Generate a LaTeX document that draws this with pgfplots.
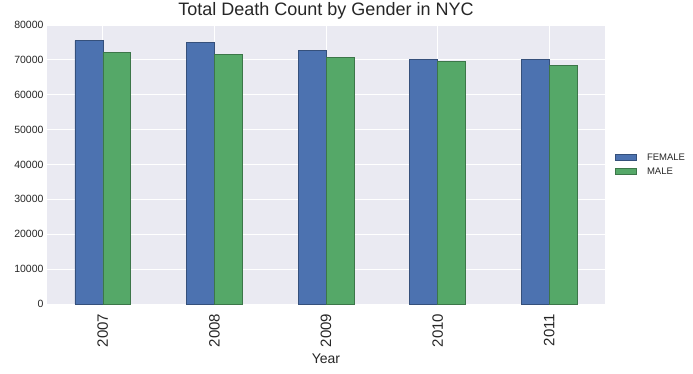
\documentclass[border=0pt]{standalone}
\usepackage{pgfplots}
\pgfplotsset{compat=1.18}
\usepackage{fontspec}
\setmainfont{Liberation Sans}
\definecolor{sbblue}{HTML}{4C72B0}
\definecolor{sbgreen}{HTML}{55A868}
\definecolor{sbbg}{HTML}{EAEAF2}
\definecolor{sbtext}{HTML}{262626}
\begin{document}
\begin{tikzpicture}
\useasboundingbox (0,0) rectangle (693pt,373pt);
\begin{axis}[
  at={(47pt,69pt)}, anchor=south west,
  scale only axis, width=558pt, height=279pt,
  xmin=-0.5, xmax=4.5, ymin=0, ymax=80000,
  axis background/.style={fill=sbbg},
  axis line style={draw=none},
  grid=major, major grid style={white, line width=1pt},
  tick style={draw=none},
  xtick={0,1,2,3,4}, xticklabels={2007,2008,2009,2010,2011},
  xticklabel style={rotate=90, anchor=east, font=\fontsize{15}{15}\selectfont, text=sbtext, xshift=-2pt},
  ytick={0,10000,20000,30000,40000,50000,60000,70000,80000},
  yticklabel style={font=\fontsize{10.5}{12}\selectfont, text=sbtext},
  scaled y ticks=false,
  /pgf/number format/.cd, fixed, set thousands separator={}, assume math mode=true, /pgfplots/.cd,
  title={Total Death Count by Gender in NYC},
  title style={font=\fontsize{18}{20}\selectfont, at={(0.5,1)}, anchor=base, yshift=4pt, text=sbtext},
  xlabel={Year},
  xlabel style={font=\fontsize{14}{14}\selectfont, at={(0.5,0)}, anchor=base, yshift=-59pt, text=sbtext},
  ybar, bar width=0.25,
  legend style={at={(1.013,0.5)}, anchor=west, draw=none, fill=none, font=\fontsize{9.5}{11}\selectfont, text=sbtext, row sep=2pt, column sep=8pt},
  legend cell align=left,
  legend image code/.code={\draw[#1] (0pt,-3.2pt) rectangle (21pt,3.2pt);},
]
\addplot[fill=sbblue, draw=sbblue!70!black, line width=0.6pt, bar shift=-0.125] coordinates {(0,75530) (1,74960) (2,72660) (3,70090) (4,70090)};
\addplot[fill=sbgreen, draw=sbgreen!70!black, line width=0.6pt, bar shift=0.125] coordinates {(0,72090) (1,71520) (2,70660) (3,69510) (4,68450)};
\legend{FEMALE, MALE}
\end{axis}
\end{tikzpicture}
\end{document}
